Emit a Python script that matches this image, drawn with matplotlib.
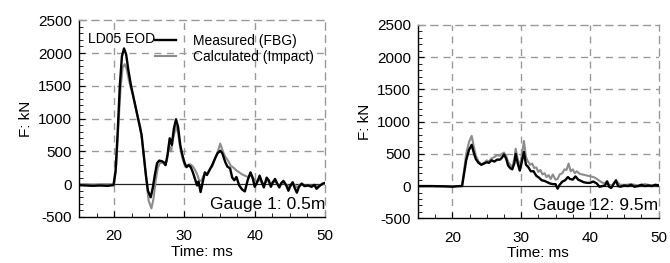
import matplotlib
matplotlib.use('Agg')
import matplotlib.pyplot as plt
from matplotlib.ticker import MultipleLocator

plt.rcParams['font.family'] = ['Liberation Sans', 'DejaVu Sans']
plt.rcParams['axes.unicode_minus'] = False

# Gauge 1 (0.5 m) - measured (FBG)
t_meas_1 = [15, 16, 17, 18, 19, 19.9, 20.2, 20.5, 20.8, 21.1, 21.4, 21.7, 22.0, 22.4,
            22.8, 23.2, 23.6, 23.9, 24.2, 24.5, 24.8, 25.2, 25.5, 25.8, 26.1, 26.4,
            26.8, 27.1, 27.3, 27.6, 27.9, 28.2, 28.5, 28.8, 29.1, 29.4, 29.7, 30.0,
            30.3, 30.6, 30.9, 31.2, 31.5, 31.8, 32.0, 32.3, 32.6, 32.9, 33.2, 33.5,
            33.9, 34.3, 34.7, 35.1, 35.4, 35.8, 36.1, 36.5, 36.8, 37.1, 37.4, 37.8,
            38.2, 38.6, 39.0, 39.4, 39.7, 40.0, 40.4, 40.7, 41.0, 41.3, 41.7, 42.0,
            42.3, 42.6, 42.9, 43.2, 43.5, 43.8, 44.1, 44.5, 44.8, 45.1, 45.4, 45.7,
            46.0, 46.3, 46.7, 47.1, 47.6, 48.1, 48.5, 48.8, 49.3, 49.7, 50]
f_meas_1 = [-15, -20, -25, -20, -25, -15, 200, 800, 1500, 1950, 2070, 1980, 1750, 1500,
            1300, 1100, 900, 750, 450, 150, -100, -200, -50, 150, 320, 360,
            350, 330, 290, 450, 700, 600, 850, 990, 870, 600, 450, 330,
            260, 290, 260, 180, 80, -20, 40, -120, 30, 180, 140, 200,
            280, 380, 470, 510, 470, 340, 270, 240, 100, 60, 110, -20,
            -80, -110, 60, 180, 100, -40, 40, 130, 40, -50, 100, 60,
            -40, 30, 80, 10, -50, 20, 50, -20, -100, -20, 30, -60,
            -130, -40, 10, -30, -20, -40, -10, -70, -20, 10, 20]

# Gauge 1 (0.5 m) - calculated (Impact)
t_calc_1 = [15, 16, 17, 18, 19, 20.0, 20.3, 20.6, 20.9, 21.2, 21.5, 21.8, 22.1, 22.5,
            22.9, 23.3, 23.7, 24.0, 24.3, 24.6, 24.9, 25.3, 25.6, 25.9, 26.2, 26.5,
            26.9, 27.2, 27.5, 27.8, 28.1, 28.4, 28.8, 29.1, 29.4, 29.7, 30.0, 30.3,
            30.6, 30.9, 31.2, 31.5, 31.8, 32.1, 32.4, 32.7, 33.0, 33.3, 33.6, 34.0,
            34.4, 34.8, 35.1, 35.4, 35.8, 36.2, 36.6, 37.0, 37.4, 37.8, 38.2, 38.6,
            39.0, 39.4, 39.8, 40.2, 40.6, 41.0, 41.4, 41.8, 42.2, 42.6, 43.0, 43.5,
            44.0, 44.5, 45.0, 45.5, 46.0, 46.5, 47.0, 48.0, 49.0, 50.0]
f_calc_1 = [0, 0, -5, 0, 0, 0, 300, 900, 1450, 1780, 1830, 1750, 1580, 1420,
            1250, 1050, 880, 650, 350, 50, -250, -370, -220, 50, 250, 320,
            330, 300, 350, 600, 500, 700, 880, 780, 550, 400, 300, 270,
            300, 300, 270, 220, 150, 60, 50, 130, 160, 170, 230, 280,
            400, 520, 620, 520, 420, 360, 280, 250, 210, 180, 150, 130,
            110, 130, 90, 40, 80, 20, 10, 60, 0, 40, 30, -30,
            30, -10, -40, 10, -50, 0, -20, -20, -30, 10]

# Gauge 12 (9.5 m) - measured (FBG)
t_meas_12 = [15, 17, 19, 20, 21, 21.4, 21.7, 22.0, 22.4, 22.8, 23.1, 23.4, 23.8, 24.2,
             24.6, 25.0, 25.3, 25.7, 26.1, 26.5, 26.9, 27.2, 27.5, 27.8, 28.1, 28.4,
             28.7, 29.0, 29.2, 29.5, 29.8, 30.1, 30.4, 30.7, 31.0, 31.4, 31.8, 32.2,
             32.6, 33.0, 33.4, 33.8, 34.2, 34.6, 35.0, 35.3, 35.6, 36.0, 36.4, 36.8,
             37.1, 37.5, 37.9, 38.3, 38.7, 39.1, 39.6, 40.0, 40.5, 41.0, 41.4, 41.8,
             42.2, 42.5, 42.8, 43.1, 43.5, 43.8, 44.1, 44.5, 45.0, 45.5, 46.0, 46.5,
             47.0, 47.5, 48.0, 48.5, 49.0, 49.5, 50]
f_meas_12 = [0, 0, -5, -10, 0, 0, 200, 400, 560, 640, 520, 420, 360, 330,
             350, 370, 360, 400, 380, 410, 410, 440, 490, 430, 320, 280,
             260, 350, 500, 350, 240, 380, 530, 330, 300, 230, 230, 160,
             130, 90, 80, 60, 40, 30, 30, -40, 20, 70, 90, 140,
             110, 100, 150, 100, 80, 60, 50, 50, 70, 40, -10, 0,
             10, 70, -10, -30, 40, 90, 0, -10, 10, 0, 20, -10,
             0, 20, 0, 10, 0, 20, 10]

# Gauge 12 (9.5 m) - calculated (Impact)
t_calc_12 = [15, 20, 21.4, 21.7, 22.0, 22.4, 22.8, 23.1, 23.4, 23.8, 24.2, 24.6, 25.0,
             25.3, 25.7, 26.1, 26.5, 26.9, 27.2, 27.5, 27.8, 28.1, 28.4, 28.7, 29.0,
             29.2, 29.5, 29.8, 30.1, 30.4, 30.7, 31.0, 31.3, 31.6, 31.9, 32.2, 32.5,
             32.8, 33.1, 33.4, 33.7, 34.0, 34.3, 34.6, 35.0, 35.3, 35.6, 36.0, 36.3,
             36.6, 36.9, 37.2, 37.5, 37.8, 38.1, 38.5, 38.9, 39.3, 39.7, 40.1, 40.5,
             40.9, 41.3, 41.7, 42.1, 42.5, 42.8, 43.2, 43.6, 44.0, 44.4, 44.8, 45.3,
             46, 47, 48, 49, 50]
f_calc_12 = [0, 0, 0, 250, 500, 680, 780, 620, 470, 380, 340, 360, 400,
             380, 430, 450, 480, 470, 500, 520, 470, 380, 330, 300, 420,
             580, 420, 300, 480, 700, 450, 380, 330, 350, 280, 290, 220,
             250, 180, 200, 140, 170, 110, 180, 100, 110, 180, 200, 260,
             250, 350, 230, 260, 200, 230, 190, 180, 170, 160, 150, 140,
             120, 90, 60, 40, 80, 20, 10, 60, 60, 20, 20, 20,
             30, 10, 30, 10, 20]

x_ticks = [20, 30, 40, 50]
y_ticks = [-500, 0, 500, 1000, 1500, 2000, 2500]

fig = plt.figure(figsize=(6.7, 2.63), dpi=100)
ax1 = fig.add_axes([0.118, 0.175, 0.367, 0.748])
ax2 = fig.add_axes([0.624, 0.170, 0.359, 0.735])

grid_dash = (0, (5, 4))
for ax in (ax1, ax2):
    ax.set_xlim(15, 50)
    ax.set_ylim(-500, 2500)
    ax.set_xticks(x_ticks)
    ax.set_yticks(y_ticks)
    ax.xaxis.set_minor_locator(MultipleLocator(2.5))
    ax.yaxis.set_minor_locator(MultipleLocator(100))
    ax.tick_params(which='both', direction='in', labelsize=11, color='k')
    ax.tick_params(which='major', length=4)
    ax.tick_params(axis='x', which='major', pad=9)
    ax.tick_params(axis='y', which='major', pad=5)
    ax.tick_params(which='minor', length=3)
    # dashed grey grid
    for xv in [20, 30, 40]:
        ax.axvline(xv, color='#999999', lw=1, ls=grid_dash, zorder=0)
    for yv in [500, 1000, 1500, 2000]:
        ax.axhline(yv, color='#999999', lw=1, ls=grid_dash, zorder=0)
    ax.axhline(0, color='#222222', lw=0.9, zorder=1)
    for s in ['top', 'right']:
        ax.spines[s].set_color('#999999')
        ax.spines[s].set_linestyle(grid_dash)
        ax.spines[s].set_linewidth(1)
    for s in ['left', 'bottom']:
        ax.spines[s].set_linewidth(1)
    ax.set_xlabel('Time: ms', fontsize=11, labelpad=1)
    ax.set_ylabel('F: kN', fontsize=11, labelpad=4)

# left panel
ax1.plot(t_meas_1, f_meas_1, color='black', lw=1.7, label='Measured (FBG)', zorder=3)
ax1.plot(t_calc_1, f_calc_1, color='#8c8c8c', lw=1.5, label='Calculated (Impact)', zorder=2)
ax1.legend(loc='upper left', bbox_to_anchor=(0.31, 0.93), frameon=False, fontsize=10,
           handlelength=1.5, handletextpad=1.2, labelspacing=0.15,
           borderaxespad=0, borderpad=0)
ax1.text(0.035, 0.905, 'LD05 EOD', transform=ax1.transAxes, fontsize=10, va='center')
ax1.text(1.0, 0.025, 'Gauge 1: 0.5m', transform=ax1.transAxes, fontsize=12.5,
         ha='right', va='bottom')

# right panel
ax2.plot(t_calc_12, f_calc_12, color='#8c8c8c', lw=1.5, zorder=2)
ax2.plot(t_meas_12, f_meas_12, color='black', lw=1.7, zorder=3)
ax2.text(1.0, 0.025, 'Gauge 12: 9.5m', transform=ax2.transAxes, fontsize=12.5,
         ha='right', va='bottom')

plt.savefig('out.png', dpi=100)
